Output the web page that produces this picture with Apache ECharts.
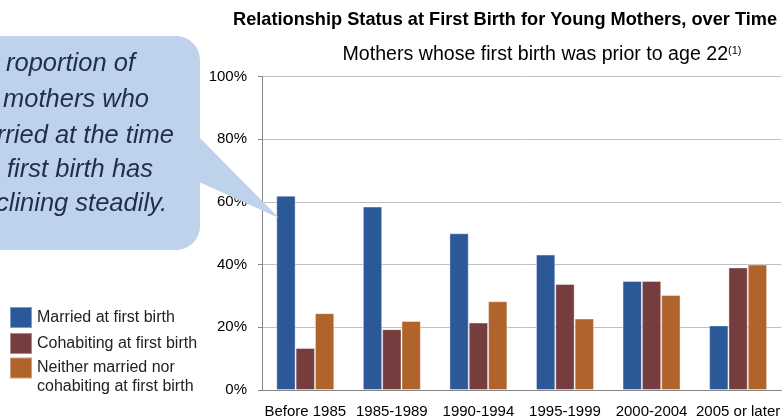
<!DOCTYPE html>
<html>
<head>
<meta charset="utf-8">
<script src="https://cdn.jsdelivr.net/npm/echarts@6/dist/echarts.min.js"></script>
<style>html,body{margin:0;padding:0;background:#fff}#c{width:783px;height:419px}</style>
</head>
<body>
<div id="c"></div>
<script>
const categories = ['Before 1985', '1985-1989', '1990-1994', '1995-1999', '2000-2004', '2005 or later'];
const married = [62, 58.5, 50, 43.2, 34.8, 20.6];
const cohabiting = [13.4, 19.4, 21.5, 33.8, 34.8, 39.1];
const neither = [24.5, 22, 28.3, 22.8, 30.3, 40];
const yTicks = [0, 20, 40, 60, 80, 100];
const seriesNames = ['Married at first birth', 'Cohabiting at first birth', 'Neither married nor cohabiting at first birth'];
const calloutLines = ['roportion of', 'mothers who', 'rried at the time', 'first birth has', 'clining steadily.'];

const colors = ['#2B5998', '#753D3E', '#B0632A'];
const chart = echarts.init(document.getElementById('c'), null, {renderer: 'canvas'});
const font = 'Liberation Sans';

const calloutText = calloutLines.map((t, i) => ({
  type: 'text', z: 101,
  style: {
    text: t, x: [135, 149, 174, 153, 167][i], y: [72, 108, 144, 178, 212][i] - 8,
    textAlign: 'right', textVerticalAlign: 'middle',
    font: 'italic 25.5px "Liberation Sans"', fill: '#1F2D50'
  }
}));

chart.setOption({
  animation: false,
  color: colors,
  title: [{
    text: 'Relationship Status at First Birth for Young Mothers, over Time',
    left: 505, top: 6, textAlign: 'center',
    textStyle: {fontFamily: font, fontWeight: 'bold', fontSize: 18.2, color: '#000'}
  }, {
    text: '{a|Mothers whose first birth was prior to age 22}{s|(1)}',
    left: 540, top: 40, textAlign: 'center',
    textStyle: {
      fontWeight: 'normal',
      rich: {
        a: {fontFamily: font, fontSize: 19.6, fontWeight: 'normal', color: '#000'},
        s: {fontFamily: font, fontSize: 11, fontWeight: 'normal', color: '#000', verticalAlign: 'top', padding: [0, 0, 8, 0]}
      }
    }
  }],
  legend: [{
    orient: 'vertical', left: 9, top: 306, padding: 0, itemGap: 3,
    itemWidth: 22, itemHeight: 21, icon: 'rect',
    data: [seriesNames[0], seriesNames[1]],
    textStyle: {fontFamily: font, fontSize: 16, color: '#222'}
  }, {
    orient: 'vertical', left: 9, top: 339.5, padding: 0,
    itemWidth: 22, itemHeight: 21, icon: 'rect',
    data: [seriesNames[2]],
    formatter: () => ' \nNeither married nor\ncohabiting at first birth',
    textStyle: {fontFamily: font, fontSize: 16, color: '#222', lineHeight: 19}
  }],
  grid: {left: 262, top: 76.5, width: 522, height: 313.5, containLabel: false},
  xAxis: {
    type: 'category', data: categories,
    axisLine: {lineStyle: {color: '#868686'}},
    axisTick: {show: false},
    axisLabel: {fontFamily: font, fontSize: 15, color: '#000', margin: 14, interval: 0}
  },
  yAxis: {
    type: 'value', min: yTicks[0], max: yTicks[yTicks.length - 1], interval: yTicks[1] - yTicks[0],
    axisLine: {show: true, lineStyle: {color: '#868686'}},
    axisTick: {show: true, length: 4, lineStyle: {color: '#868686'}},
    splitLine: {lineStyle: {color: '#BFBFBF'}},
    axisLabel: {fontFamily: font, fontSize: 15, color: '#000', margin: 15, formatter: '{value}%'}
  },
  series: [married, cohabiting, neither].map((d, i) => ({
    name: seriesNames[i], type: 'bar', data: d,
    barGap: '0%', barCategoryGap: '33%',
    itemStyle: {color: colors[i], borderColor: 'rgba(255,255,255,0.4)', borderWidth: 1}
  })),
  graphic: [{
    type: 'group', z: 100,
    children: [{
      type: 'rect', z: 100,
      shape: {x: -40, y: 36, width: 240, height: 214, r: 24},
      style: {fill: '#BFD2EB'}
    }, {
      type: 'polygon', z: 100,
      shape: {points: [[199, 137], [279, 218], [199, 182]]},
      style: {fill: '#BFD2EB'}
    }].concat(calloutText)
  }]
});
chart.setOption({title: [{left: 500}, {left: 537}]});
</script>
</body>
</html>
